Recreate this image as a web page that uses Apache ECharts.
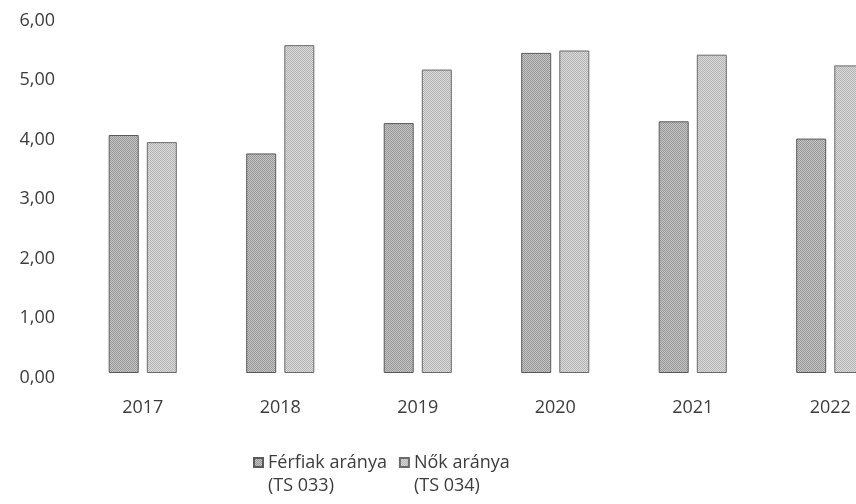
<!DOCTYPE html>
<html>
<head>
<meta charset="utf-8">
<script src="https://cdn.jsdelivr.net/npm/echarts@6/dist/echarts.min.js"></script>
<style>
  html, body { margin: 0; padding: 0; background: #ffffff; overflow: hidden; }
  /* the plot runs past the window's right edge, so the last bar is cut off */
  #chart { width: 899px; height: 504px; }
</style>
</head>
<body>
<div id="chart"></div>
<script>
// Years on the category axis
const years = ['2017', '2018', '2019', '2020', '2021', '2022'];

// Series names (two-line legend labels)
const seriesNames = ['Férfiak aránya\n(TS 033)', 'Nők aránya\n(TS 034)'];

// Ratios per year
const ferfiak = [4.00, 3.69, 4.20, 5.38, 4.23, 3.94];
const nok = [3.88, 5.51, 5.10, 5.42, 5.35, 5.17];

// Value-axis ticks
const yTicks = [0, 1, 2, 3, 4, 5, 6];

// Small stippled fill so the bars look like a halftone grey
function stipple(dark, light) {
  const c = document.createElement('canvas');
  c.width = 4; c.height = 4;
  const g = c.getContext('2d');
  for (let y = 0; y < 4; y++) {
    for (let x = 0; x < 4; x++) {
      g.fillStyle = ((x + y) % 2 === 0) ? dark : light;
      g.fillRect(x, y, 1, 1);
    }
  }
  return { image: c, repeat: 'repeat' };
}

const fillF = stipple('#989898', '#c4c4c4');
const fillN = stipple('#b4b4b4', '#dadada');

const font = '"Open Sans", "Liberation Sans", sans-serif';
const textColor = '#3c3c3c';

const chart = echarts.init(document.getElementById('chart'), null, { renderer: 'canvas' });

chart.setOption({
  backgroundColor: '#ffffff',
  animation: false,
  grid: { left: 74, right: 0, top: 16, height: 357 },
  legend: {
    left: 253,
    top: 428,
    padding: 0,
    itemWidth: 9,
    itemHeight: 9,
    itemGap: 12,
    icon: 'rect',
    // leading blank line keeps the marker level with the first text line
    formatter: name => '\n' + name,
    textStyle: {
      fontFamily: font,
      fontSize: 18,
      color: textColor,
      lineHeight: 23
    },
    data: seriesNames
  },
  xAxis: {
    type: 'category',
    data: years,
    axisLine: { show: false },
    axisTick: { show: false },
    axisLabel: {
      margin: 26,
      fontFamily: font,
      fontSize: 18,
      color: textColor
    }
  },
  yAxis: {
    type: 'value',
    min: yTicks[0],
    max: yTicks[yTicks.length - 1],
    interval: 1,
    axisLine: { show: false },
    axisTick: { show: false },
    splitLine: { show: false },
    axisLabel: {
      margin: 19,
      color: textColor,
      formatter: v => '{v|' + v.toFixed(2).replace('.', ',') + '}',
      rich: {
        v: {
          fontFamily: font,
          fontSize: 18,
          color: textColor,
          padding: [9, 0, 0, 0]
        }
      }
    }
  },
  series: [
    {
      name: seriesNames[0],
      type: 'bar',
      data: ferfiak,
      barWidth: 30,
      barGap: '27%',
      itemStyle: { color: fillF, borderColor: '#5a5a5a', borderWidth: 1 }
    },
    {
      name: seriesNames[1],
      type: 'bar',
      data: nok,
      barWidth: 30,
      barGap: '27%',
      itemStyle: { color: fillN, borderColor: '#6a6a6a', borderWidth: 1 }
    }
  ]
});
</script>
</body>
</html>
